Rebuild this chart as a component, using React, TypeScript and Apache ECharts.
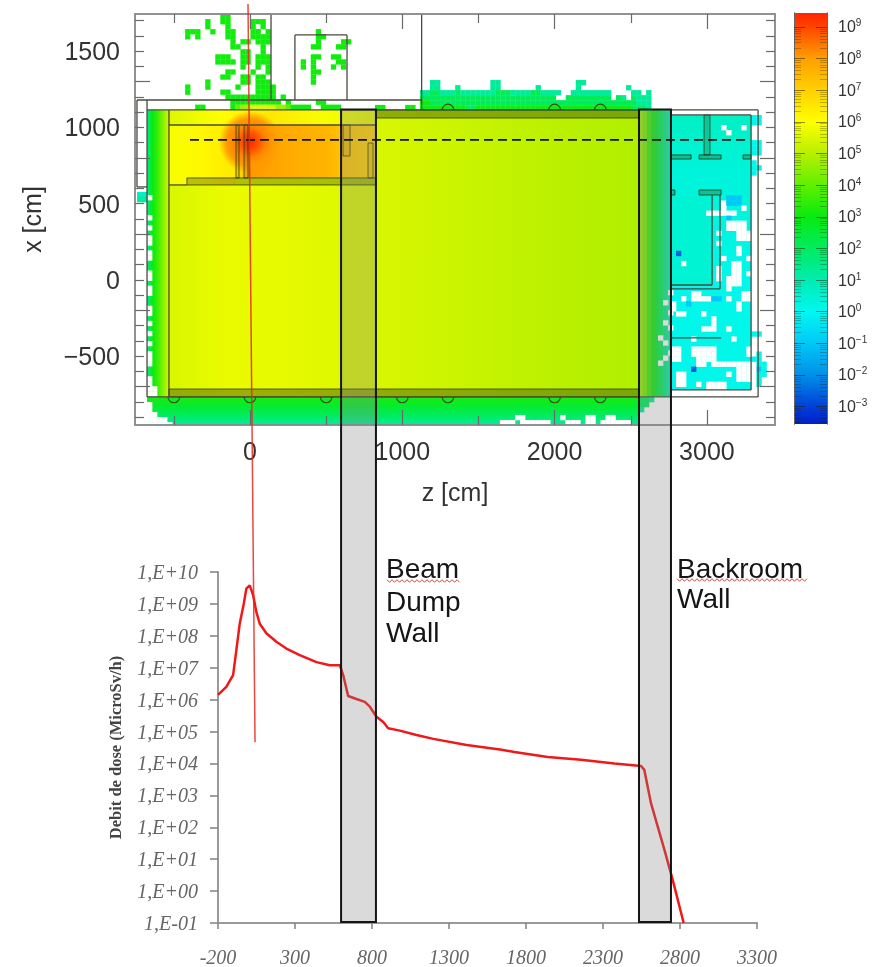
import React, { useEffect, useRef } from "react";
import * as echarts from "echarts";

// ---- dose curve (lower plot): z [cm], dose rate
const curveZ = [-200,-146,-102,-81,-59,-33,-16,6,28,49,71,114,179,244,331,439,526,591,613,645,699,753,786,829,873,905,981,1089,1198,1414,1631,1724,1941,2157,2374,2547,2568,2612,2699,2753,2824];
const curveDose = [1.4e6,2.5e6,5.9e6,3.5e7,2.4e8,1e9,3e9,3.8e9,1.9e9,5.6e8,2.4e8,1.2e8,6.5e7,4e7,2.5e7,1.5e7,1.2e7,1.2e7,5.9e6,1.3e6,1.05e6,8.5e5,6e5,2.9e5,2e5,1.26e5,1.07e5,7.8e4,5.9e4,3.8e4,2.75e4,2.3e4,1.6e4,1.3e4,1e4,8.3e3,6.3e3,560,19.5,2.2,0.1];
const curveTicks = [-200,300,800,1300,1800,2300,2800,3300];

// ---- upper plot axes
const zLong = [0,1000,2000,3000];
const zShort = [-500,500,1500,2500];
const xLabels = [1500,1000,500,0,-500];
const xLong = [1300,800,300,-200,-700];
const xShort = [1700,1600,1500,1400,1200,1100,1000,900,700,600,500,400,200,100,0,-100,-300,-400,-500,-600,-800,-900];

// ---- colour scale: log10(dose), colour
const scaleLogs = [9.44,9,8,7,6,5,4,3,2,1,0,-1,-2,-3,-3.55];
const scaleColors = ["#ff2400","#ff4500","#ffa000","#ffd000","#ffff00","#b8f000","#60f000","#08ea10","#00ec60","#00ecb0","#00f8f0","#00c8f8","#0090e8","#0040d8","#0020c8"];
const scaleMajor = [9,8,7,6,5,4,3,2,1,0,-1,-2,-3];
const scaleMinorOffsets = [0.06,0.13,0.2,0.28,0.38,0.5,0.66];

// ---- smooth dose regions: z0, x0, z1, x1, direction, log10 dose stops
const fieldBlocks: [number,number,number,number,"h"|"v",number[]][] = [
  [-676,1115,-532,-767,"h",[1.5,3,3.6,4.5,5.4]],
  [-676,-767,2556,-951,"v",[3.2,2.6,2,1.2]],
  [-532,1115,2554,-767,"h",[5.45,5.72,5.65,5.5,5.38,5.25,5.1,5,4.9]],
  [-532,1115,827,1016,"h",[5.5,6,6.5,5.9,5.6]],
  [-532,1016,-92,623,"h",[5.9,6.15,6.5]],
  [-92,1016,-13,669,"h",[6.6,7.5]],
  [-13,1016,827,669,"h",[8.1,7.9,7.7,7.6,7.1,6.9]],
  [2764,1082,3290,-721,"v",[0.7,0.35,0.25,0.1,0.1,0.1]],
  [2764,557,3034,-33,"v",[0.45,0.45]],
];
const wallStripeLogs = [4.6,4.2,3.6,3.1,2.6,2.1,1.6,1.0];
const wallStripeSpan = [2554,2764,1115,-767];
const hotSpot = [0,905,205];
const hotSpotLogs = [9.4,8.9,8.3,8.05,7.9];

// ---- binned dose cells: one char per cell, 33 cm wide
const cellLogs: Record<string, number> = { a:-2.6, b:-1, c:0.1, d:0.7, e:1.3, f:2.1, g:3.1, h:4, i:4.7, j:5.5, w:99 };
const cellSize = 33;
const scatterRows = [
  "...........gg.........................",
  "........g..gg....ggg..................",
  "........g...g....g.g..................",
  "....ggg..g..gg...gg.g.........g.......",
  "....g.g.....gg...gggg.........gg......",
  ".............g.gg.ggg.........g....gg.",
  ".............gg....g.........gg...gg..",
  "...............gg..g..................",
  "..........ggg..gg.ggg........gg..gg...",
  "..........gggg.gg.ggg......g.g....gg..",
  "...............g..g.g......g.g...g.g..",
  "............gg...g..g........gg.......",
  "...........gg..gg.gg.........g........",
  "........g......gg.ggg........g........",
  "....g...g.....g...gggg................",
  "....g......gg.....gggg................",
  "............gggggggggg.g..............",
  ".............gggggggggg.g.....gg......",
  "......gg.....ghiijjjjjiihgggg..gggg...",
];
const crestRows = [
  "..ee..........ee...............ee.............",
  "..ee...e......ee.......e.......e.........e....",
  "eeffeeefeeeeeeefffeeeeffeeee..eeeeeeee....ee.e",
  "fffffffffffffffffffffffffff..fffffffff.fe.feee",
  "ggfffffffffffffffffffffffffffffffffffffffffeee",
  "gggggggggffgggggggggggggggggggggggggggggggfffe",
];
const midStripRows = ["....gg....gg.."];
const cornerRows = ["", "w", "w", "ww", "wwww", "wwwww"];
const floorHoleRows = [
  "..............................",
  "...ww.......w....ww..ww.......",
  "www.wwwwww...www.ww.wwwwww..ww",
];
const floorEndRows = ["ffe", "ff.", "e.."];
const leftEdgeRows = [
  "..","w.","..","..","..","w.","..","w.","..","w.","w.","..","w.","w.","..","..","w.","w.","..","w.",
  "w.","..","..","w.","w.","..","w.","..","w.","..","w.","..","w.","w.","w.","..","..","w.","w.","ww","ww",
];
const leftNoteRows = ["dd", "ee"];
const wallSpotRows = ["..w","...",".w.","...","..w","...",".w.","..w","...","w..",".w.","...","..w",".w.","w..","..."];
const backroomRows = [
  "...................",
  "................cc.",
  "................cc.",
  "..........w...w....",
  "...........w.......",
  "...................",
  "................cc.",
  "................cc.",
  "................cc.",
  "...................",
  "................c..",
  "................cc.",
  "................c..",
  "...................",
  "...................",
  "...................",
  "...................",
  "...........bbb.....",
  "..........wbbb.....",
  "..........w...w....",
  ".......wwwwww......",
  "...........b.......",
  "...........wwww....",
  "...........wwww....",
  ".........w...www...",
  ".............www...",
  ".........w.........",
  ".............w.....",
  ".a...........w.....",
  "..........w....w...",
  "..w.........ww.....",
  ".........w..ww.....",
  ".........w..ww.w...",
  ".........w.www.....",
  "...........www.....",
  "...........w.......",
  "....ww........ww...",
  "..w.wwwwbb.w..ww...",
  "w..b.........w.....",
  "w............w.....",
  ".ww...w............",
  "........w..........",
  "........w..........",
  "......www..w.......",
  "................cc.",
  "....w.......w......",
  "...................",
  "ww..wwwww......ww..",
  "ww..wwwww......wwc.",
  "ww...wwww.......cc.",
  ".....ww.wwwwwwww.cc",
  "....a........www.bc",
  ".ww........w.www.cc",
  ".ww..........www.c.",
  ".ww..w.wwww......c.",
  ".......wwww........",
];
const cellMaps: [number,number,string[]][] = [
  [-558,1744,scatterRows],
  [1116,1311,crestRows],
  [689,1148,midStripRows],
  [-676,-767,cornerRows],
  [1641,-852,floorHoleRows],
  [2554,-767,floorEndRows],
  [-676,590,leftEdgeRows],
  [-742,577,leftNoteRows],
  [2679,-66,wallSpotRows],
  [2764,1115,backroomRows],
];

// ---- geometry of the hall, in cm: z0, x0, z1, x1 (boxes carry a fill opacity too)
const structureLines = [
  [-742,1180,1127,1180],[-742,1180,-742,610],[-742,610,-676,610],[-676,1180,-676,-767],[-676,-767,3336,-767],
  [3336,1115,3336,-767],[2764,1115,3336,1115],[2764,1082,3290,1082],[3290,1082,3290,-721],[2764,-721,3290,-721],
  [-676,1115,2554,1115],[-532,1115,-532,-767],[-532,1016,827,1016],[-532,623,-414,623],
  [138,1744,138,1180],[1127,1744,1127,1115],[295,1180,295,1607],[295,1607,637,1607],[637,1607,637,1180],
  [3034,557,3034,-33],[3086,557,3086,-59],[2764,-33,3034,-33],[2764,-59,3086,-59],[2764,-380,3093,-380],
];
const structureBoxes = [
  [827,1115,2554,1062,0.42],[-532,-715,2554,-767,0.42],[-414,669,827,623,0.32],[-92,1016,-72,669,0.12],[-39,1016,-13,669,0.12],
  [611,1016,657,813,0.08],[775,898,808,669,0.08],[2981,1082,3020,820,0.25],
  [2764,820,2896,793,0.3],[2948,820,3093,793,0.3],[3237,820,3290,793,0.3],[2948,590,3093,557,0.3],[2764,590,2790,557,0.3],
];
const bumpsTop = [[1300,1115],[2000,1115],[2300,1115]];
const bumpsBottom = [[-500,-767],[0,-767],[500,-767],[1000,-767],[1300,-767],[2000,-767],[2300,-767]];
const bumpRadius = 38;

// ---- annotations
const walls = [[598,827],[2554,2764]];
const wallTop = 1118;
const wallBottom = -4210;
const beamLine = [[-13,1810],[33,-3031]];
const sectionLine = [[-394,918],[3283,918]];

function logColor(v: number): string {
  if (v === 99) return "#ffffff";
  const hex = (s: string) => [1,3,5].map((i) => parseInt(s.slice(i, i + 2), 16));
  for (let i = 0; i < scaleLogs.length - 1; i++) {
    if (v <= scaleLogs[i] && v >= scaleLogs[i + 1]) {
      const t = (scaleLogs[i] - v) / (scaleLogs[i] - scaleLogs[i + 1]);
      const a = hex(scaleColors[i]), b = hex(scaleColors[i + 1]);
      return `rgb(${a.map((c, k) => Math.round(c + (b[k] - c) * t)).join(",")})`;
    }
  }
  return scaleColors[0];
}
const stopsOf = (logs: number[]) => logs.map((v, i) => ({ offset: i / (logs.length - 1), color: logColor(v) }));

const cellData: number[][] = [];
cellMaps.forEach(([z0, x0, rows]) => rows.forEach((row, r) => row.split("").forEach((ch, c) => {
  if (cellLogs[ch] !== undefined) cellData.push([z0 + c * cellSize, x0 - r * cellSize, cellLogs[ch]]);
})));
const stripeWidth = (wallStripeSpan[1] - wallStripeSpan[0]) / wallStripeLogs.length;
const allBlocks: [number,number,number,number,"h"|"v",number[]][] = [
  ...fieldBlocks,
  ...wallStripeLogs.map((v, i) => [wallStripeSpan[0] + i * stripeWidth, wallStripeSpan[2], wallStripeSpan[0] + (i + 1) * stripeWidth, wallStripeSpan[3], "h", [v, v]] as any),
];

const TICK = "#6a6a6a";
const FRAME = "#8a8a8a";
const SANS = '"Liberation Sans", Arial, sans-serif';
const SERIF = '"Liberation Serif", serif';

function frameAxis(type: "x" | "y", gridIndex: number, position: string, values: number[], length: number, extra: any = {}) {
  const [min, max] = type === "x" ? [-755, 3447] : [-951, 1744];
  return {
    type: "value", gridIndex, position, min, max, z: 6,
    axisLine: { show: true, onZero: false, lineStyle: { color: FRAME, width: 1.5 } },
    axisTick: { show: true, inside: true, length, customValues: values, lineStyle: { color: TICK, width: 1.2 } },
    axisLabel: { show: false },
    splitLine: { show: false },
    ...extra,
  };
}
const bigLabel = (values: number[], margin: number) => ({
  show: true, customValues: values, margin, fontFamily: SANS, fontSize: 25, color: "#333",
  formatter: (v: number) => (v < 0 ? "\u2212" + Math.abs(v) : String(v)),
});
const bigName = { fontFamily: SANS, fontSize: 25, color: "#333" };

function scaleAxis(gridIndex: number, position: string, values: number[], length: number, color: string, extra: any = {}) {
  return {
    type: "value", gridIndex, position, min: -3.55, max: 9.44, z: 6,
    axisLine: { show: true, onZero: false, lineStyle: { color: "#666", width: 1 } },
    axisTick: { show: true, inside: true, length, customValues: values, lineStyle: { color, width: 1 } },
    axisLabel: { show: false },
    splitLine: { show: false },
    ...extra,
  };
}
const hiddenX = (gridIndex: number) => ({ type: "value", gridIndex, min: 0, max: 1, show: false });

const zigzag = (x0: number, x1: number, y: number) => {
  const pts: number[][] = [];
  for (let x = x0, i = 0; x <= x1; x += 2.5, i++) pts.push([x, y + (i % 2 ? 1.3 : -1.3)]);
  return pts;
};
const note = (text: string, x: number, y: number) => ({
  type: "text", x, y, z: 20,
  style: { text, fontFamily: SANS, fontSize: 28, fill: "#151515", textVerticalAlign: "middle" },
});

export default function App() {
  const ref = useRef<HTMLDivElement>(null);
  useEffect(() => {
    const chart = echarts.init(ref.current!, undefined, { renderer: "svg" });
    const minorScale = scaleMajor.flatMap((m) => scaleMinorOffsets.map((o) => m - o)).filter((v) => v > -3.55);
    const MAJ = "rgba(30,30,0,0.5)";
    const MIN = "rgba(30,30,0,0.28)";
    chart.setOption({
      animation: false,
      backgroundColor: "#fff",
      grid: [
        { left: 135, top: 14, width: 640, height: 411 },
        { left: 135, top: 14, width: 640, height: 411 },
        { left: 794, top: 13, width: 33, height: 411 },
        { left: 794, top: 13, width: 33, height: 411 },
        { left: 218, top: 572, width: 539, height: 351 },
      ],
      xAxis: [
        frameAxis("x", 0, "bottom", zLong, 15, {
          axisLabel: bigLabel(zLong, 13), name: "z [cm]", nameLocation: "middle", nameGap: 54, nameTextStyle: bigName,
        }),
        frameAxis("x", 0, "top", zLong, 15),
        frameAxis("x", 1, "bottom", zShort, 9),
        frameAxis("x", 1, "top", zShort, 9),
        hiddenX(2),
        hiddenX(3),
        {
          type: "value", gridIndex: 4, position: "bottom", min: -200, max: 3300,
          axisLine: { show: true, onZero: false, lineStyle: { color: "#9a9a9a", width: 2 } },
          axisTick: { show: true, length: 6, customValues: curveTicks, lineStyle: { color: "#808080", width: 1.5 } },
          axisLabel: {
            show: true, customValues: curveTicks, margin: 24, fontFamily: SERIF, fontStyle: "italic", fontSize: 20, color: "#666",
            formatter: (v: number) => String(v),
          },
          splitLine: { show: false },
        },
      ],
      yAxis: [
        frameAxis("y", 0, "left", xLong, 15, {
          axisLabel: bigLabel(xLabels, 15), name: "x [cm]", nameLocation: "middle", nameGap: 91, nameTextStyle: bigName,
        }),
        frameAxis("y", 0, "right", xLong, 15),
        frameAxis("y", 1, "left", xShort, 9),
        frameAxis("y", 1, "right", xShort, 9),
        scaleAxis(2, "left", scaleMajor, 11, MAJ),
        scaleAxis(2, "right", scaleMajor, 11, MAJ, {
          axisLabel: {
            show: true, customValues: scaleMajor, margin: 11,
            formatter: (v: number) => `{a|10}{b|${v < 0 ? "\u2212" + Math.abs(v) : v}}`,
            rich: {
              a: { fontFamily: SANS, fontSize: 16, color: "#333" },
              b: { fontFamily: SANS, fontSize: 10, color: "#333", padding: [0, 0, 8, 0] },
            },
          },
        }),
        scaleAxis(3, "left", minorScale, 7, MIN),
        scaleAxis(3, "right", minorScale, 7, MIN),
        {
          type: "log", logBase: 10, gridIndex: 4, position: "left", min: 0.1, max: 1e10, interval: 1,
          axisLine: { show: true, onZero: false, lineStyle: { color: "#9a9a9a", width: 2 } },
          axisTick: { show: true, length: 8, lineStyle: { color: "#808080", width: 1.5 } },
          axisLabel: {
            show: true, margin: 20, fontFamily: SERIF, fontStyle: "italic", fontSize: 20, color: "#666",
            formatter: (v: number) => {
              const e = Math.round(Math.log10(v));
              const mag = String(Math.abs(e)).padStart(2, "0");
              return `1,E${e < 0 ? "-" : "+"}${mag}`;
            },
          },
          splitLine: { show: false },
          name: "Debit de dose (MicroSv/h)", nameLocation: "middle", nameGap: 94,
          nameTextStyle: { fontFamily: SERIF, fontWeight: "bold", fontSize: 16.5, color: "#444" },
        },
      ],
      series: [
        {
          type: "custom", xAxisIndex: 0, yAxisIndex: 0, z: 2, clip: true, silent: true,
          data: allBlocks.map((_, i) => [i]),
          renderItem: (params: any, api: any) => {
            const [z0, x0, z1, x1, dir, logs] = allBlocks[api.value(0)];
            const a = api.coord([z0, x0]), b = api.coord([z1, x1]);
            const grad = dir === "h"
              ? new echarts.graphic.LinearGradient(0, 0, 1, 0, stopsOf(logs))
              : new echarts.graphic.LinearGradient(0, 0, 0, 1, stopsOf(logs));
            return { type: "rect", shape: { x: a[0], y: a[1], width: b[0] - a[0], height: b[1] - a[1] }, style: { fill: grad } };
          },
        },
        {
          type: "custom", xAxisIndex: 0, yAxisIndex: 0, z: 2, clip: true, silent: true,
          data: [hotSpot],
          renderItem: (params: any, api: any) => {
            const c = api.coord([api.value(0), api.value(1)]);
            const r = api.size([api.value(2), 0])[0];
            const stops = stopsOf(hotSpotLogs).map((s, i) => ({ offset: s.offset, color: i === hotSpotLogs.length - 1 ? "rgba(255,150,0,0)" : s.color }));
            return { type: "circle", shape: { cx: c[0], cy: c[1], r }, style: { fill: new echarts.graphic.RadialGradient(0.5, 0.5, 0.5, stops) } };
          },
        },
        {
          type: "custom", xAxisIndex: 0, yAxisIndex: 0, z: 2, clip: true, silent: true,
          data: cellData,
          renderItem: (params: any, api: any) => {
            const p = api.coord([api.value(0), api.value(1)]);
            const s = api.size([cellSize, cellSize]);
            return { type: "rect", shape: { x: p[0], y: p[1], width: s[0] + 0.3, height: s[1] + 0.3 }, style: { fill: logColor(api.value(2)) } };
          },
        },
        {
          type: "custom", xAxisIndex: 0, yAxisIndex: 0, z: 3, clip: true, silent: true,
          data: structureBoxes,
          renderItem: (params: any, api: any) => {
            const a = api.coord([api.value(0), api.value(1)]), b = api.coord([api.value(2), api.value(3)]);
            return {
              type: "rect", shape: { x: a[0], y: a[1], width: b[0] - a[0], height: b[1] - a[1] },
              style: { fill: `rgba(50,70,10,${api.value(4)})`, stroke: "rgba(40,50,10,0.75)", lineWidth: 1 },
            };
          },
        },
        {
          type: "custom", xAxisIndex: 0, yAxisIndex: 0, z: 3, clip: true, silent: true,
          data: structureLines,
          renderItem: (params: any, api: any) => {
            const a = api.coord([api.value(0), api.value(1)]), b = api.coord([api.value(2), api.value(3)]);
            return { type: "line", shape: { x1: a[0], y1: a[1], x2: b[0], y2: b[1] }, style: { stroke: "#4a4a40", lineWidth: 1.3 } };
          },
        },
        {
          type: "custom", xAxisIndex: 0, yAxisIndex: 0, z: 3, clip: false, silent: true,
          data: bumpsTop.map((b) => [...b, 1]).concat(bumpsBottom.map((b) => [...b, -1])),
          renderItem: (params: any, api: any) => {
            const c = api.coord([api.value(0), api.value(1)]);
            const r = api.size([bumpRadius, 0])[0];
            const up = api.value(2) > 0;
            return {
              type: "arc",
              shape: { cx: c[0], cy: c[1], r, startAngle: up ? Math.PI : 0, endAngle: up ? 2 * Math.PI : Math.PI, clockwise: true },
              style: { stroke: "#3a4a20", lineWidth: 1.2, fill: "none" },
            };
          },
        },
        {
          type: "custom", xAxisIndex: 4, yAxisIndex: 4, z: 2, silent: true,
          data: [[0, 9.44, 1, -3.55]],
          renderItem: (params: any, api: any) => {
            const a = api.coord([api.value(0), api.value(1)]), b = api.coord([api.value(2), api.value(3)]);
            const stops = scaleLogs.map((v, i) => ({ offset: (9.44 - v) / 12.99, color: scaleColors[i] }));
            return {
              type: "rect", shape: { x: a[0], y: a[1], width: b[0] - a[0], height: b[1] - a[1] },
              style: { fill: new echarts.graphic.LinearGradient(0, 0, 0, 1, stops) },
            };
          },
        },
        {
          type: "line", xAxisIndex: 6, yAxisIndex: 8, z: 4, showSymbol: false, symbol: "none", silent: true,
          lineStyle: { color: "#f01818", width: 2.5 },
          data: curveZ.map((z, i) => [z, curveDose[i]]),
        },
        {
          type: "custom", xAxisIndex: 0, yAxisIndex: 0, z: 10, clip: false, silent: true,
          data: walls,
          renderItem: (params: any, api: any) => {
            const a = api.coord([api.value(0), wallTop]), b = api.coord([api.value(1), wallBottom]);
            return {
              type: "rect", shape: { x: a[0], y: a[1], width: b[0] - a[0], height: b[1] - a[1] },
              style: { fill: "rgba(132,132,132,0.3)", stroke: "#151515", lineWidth: 2 },
            };
          },
        },
        {
          type: "line", xAxisIndex: 0, yAxisIndex: 0, z: 11, showSymbol: false, symbol: "none", silent: true, clip: false,
          lineStyle: { color: "#111", width: 1.8, type: [9, 5] },
          data: sectionLine,
        },
        {
          type: "line", xAxisIndex: 0, yAxisIndex: 0, z: 12, showSymbol: false, symbol: "none", silent: true, clip: false,
          lineStyle: { color: "rgba(232,40,30,0.85)", width: 1.5 },
          data: beamLine,
        },
      ],
      graphic: [
        note("Beam", 386, 568),
        note("Dump", 386, 601),
        note("Wall", 386, 632),
        note("Backroom", 677, 568),
        note("Wall", 677, 598),
        { type: "polyline", z: 20, shape: { points: zigzag(387, 461, 581) }, style: { stroke: "#cf4b45", lineWidth: 1, fill: "none" } },
        { type: "polyline", z: 20, shape: { points: zigzag(677, 807, 580) }, style: { stroke: "#cf4b45", lineWidth: 1, fill: "none" } },
      ],
    });
    return () => chart.dispose();
  }, []);
  return (
    <div
      ref={ref}
      style={{ position: "absolute", left: 0, top: 0, width: 879, height: 967, filter: "blur(0.7px)" }}
    />
  );
}
